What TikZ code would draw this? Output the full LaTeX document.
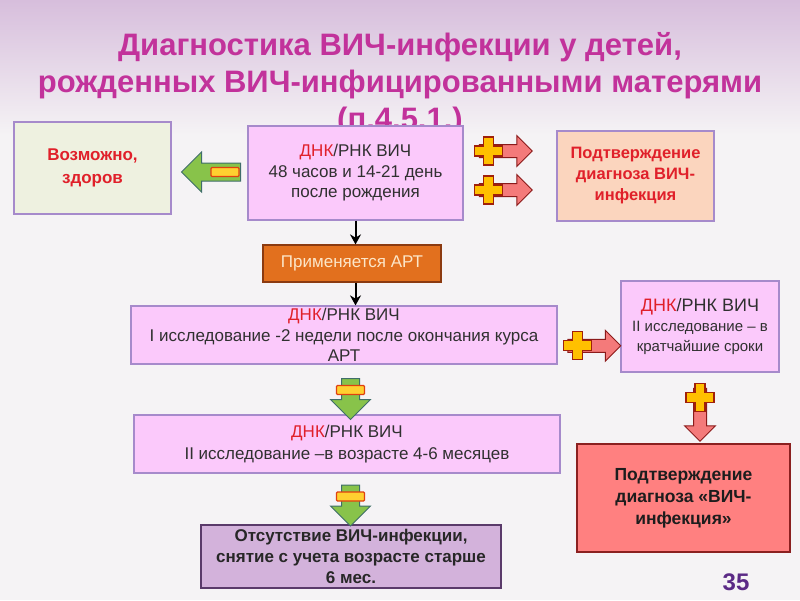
\documentclass[tikz,border=0pt]{standalone}
\usepackage{fontspec}
\setmainfont{Liberation Sans}
\usetikzlibrary{positioning,calc,shapes.arrows,arrows.meta}

\definecolor{bgcol}{HTML}{F5F3F5}
\definecolor{topcol}{HTML}{D7BEDC}
\definecolor{titlecol}{HTML}{C2329B}
\definecolor{lilac}{HTML}{A68ACB}
\definecolor{pinkfill}{HTML}{FBC9FB}
\definecolor{greenfill}{HTML}{EEF1E0}
\definecolor{peachfill}{HTML}{FBD5BE}
\definecolor{artfill}{HTML}{E2701E}
\definecolor{artdark}{HTML}{8B3A10}
\definecolor{arttext}{HTML}{FCE6C8}
\definecolor{absfill}{HTML}{D3B2DB}
\definecolor{absdark}{HTML}{5A3A6A}
\definecolor{redfill}{HTML}{FF8080}
\definecolor{reddark}{HTML}{8B2020}
\definecolor{textred}{HTML}{E0202A}
\definecolor{darktext}{HTML}{303030}
\definecolor{numcol}{HTML}{5B2A86}
\definecolor{arrowred}{HTML}{F47A7A}
\definecolor{arrowdark}{HTML}{8B1A1A}
\definecolor{plusfill}{HTML}{FFC000}
\definecolor{plusdark}{HTML}{A0200A}
\definecolor{arrowgreen}{HTML}{88C34A}
\definecolor{greendark}{HTML}{3F6E6A}
\definecolor{minusfill}{HTML}{FFD030}
\definecolor{minusdark}{HTML}{E04010}

\tikzstyle{box}=[rectangle,draw=lilac,line width=1.2pt,align=center,inner sep=0pt,text=darktext,font=\fontsize{17}{20.5}\selectfont]
\tikzstyle{pinkbox}=[box,fill=pinkfill]
\tikzstyle{greenbox}=[box,fill=greenfill,text=textred,font=\fontsize{17}{23}\selectfont\bfseries]
\tikzstyle{peachbox}=[box,fill=peachfill,text=textred,font=\fontsize{16.5}{21}\selectfont\bfseries]
\tikzstyle{artbox}=[box,fill=artfill,draw=artdark,text=arttext,font=\fontsize{17}{20}\selectfont]
\tikzstyle{lilacbox}=[box,fill=absfill,draw=absdark,text=darktext!80!black,font=\fontsize{17}{21}\selectfont\bfseries]
\tikzstyle{redbox}=[box,fill=redfill,draw=reddark,text=darktext!60!black,font=\fontsize{17.5}{22}\selectfont\bfseries]
\tikzstyle{redarrow}=[single arrow,draw=arrowdark,fill=arrowred,line width=1pt,minimum height=53pt,minimum width=30pt,inner xsep=0pt,inner ysep=6pt,text height=0pt,text depth=0pt,single arrow head extend=9pt]
\tikzstyle{reddown}=[redarrow,shape border rotate=270,inner xsep=6pt,inner ysep=0pt]
\tikzstyle{greenarrow}=[single arrow,draw=greendark,fill=arrowgreen,line width=1pt,minimum width=39pt,inner xsep=0pt,inner ysep=8.5pt,text height=0pt,text depth=0pt,single arrow head extend=11pt]
\tikzstyle{greendown}=[greenarrow,shape border rotate=270,inner xsep=8.5pt,inner ysep=0pt]
\tikzstyle{plussign}=[fill=plusfill,draw=plusdark,line width=1.2pt,line join=miter]
\tikzstyle{minussign}=[rectangle,fill=minusfill,draw=minusdark,line width=1.2pt,minimum width=28pt,minimum height=9pt,inner sep=0pt,rounded corners=1pt]
\tikzstyle{blackarrow}=[draw,line width=2pt,-{Stealth[length=10pt,width=11pt]}]
\newcommand{\dnk}{{\color{textred}ДНК}/РНК ВИЧ}

\begin{document}
\begin{tikzpicture}[x=1pt,y=-1pt]

  % background
  \fill[bgcol] (0,0) rectangle (800,600);
  \shade[top color=topcol, bottom color=bgcol] (0,0) rectangle (800,135);
  \useasboundingbox (0,0) rectangle (800,600);

  % title
  \foreach \name/\y/\txt in {title1/55/{Диагностика ВИЧ-инфекции у детей,}, title2/92/{рожденных ВИЧ-инфицированными матерями}, title3/129/{(п.4.5.1.)}}
     \node[anchor=base, text=titlecol, font=\fontsize{31}{36}\selectfont\bfseries] (\name) at (400,\y) {\txt};

  % boxes
  \node[greenbox, minimum width=157pt, minimum height=92pt] (well) at (92.5,168) {Возможно,\\здоров};
  \node[pinkbox, minimum width=215pt, minimum height=94pt] (dna1) at (355.5,173) {\dnk\\48 часов и 14-21 день\\после рождения};
  \node[peachbox, minimum width=157pt, minimum height=90pt] (confirm1) at (635.5,176) {Подтверждение\\диагноза ВИЧ-\\инфекция};
  \node[artbox, minimum width=178pt, minimum height=37pt] (art) at (352,263.5) {Применяется АРТ};
  \node[pinkbox, minimum width=426pt, minimum height=58pt] (dna2) at (344,335) {\dnk\\I исследование -2 недели после окончания курса\\АРТ};
  \node[pinkbox, minimum width=158pt, minimum height=91pt, font=\fontsize{15}{20}\selectfont] (check2) at (700,326.5) {{\fontsize{18}{20}\selectfont\dnk}\\II исследование – в\\кратчайшие сроки};
  \node[pinkbox, minimum width=426pt, minimum height=58pt, font=\fontsize{17}{22}\selectfont] (dna3) at (347,444) {\dnk\\II исследование –в возрасте 4-6 месяцев};
  \node[lilacbox, minimum width=300pt, minimum height=63pt] (absent) at (351,556.5) {Отсутствие ВИЧ-инфекции,\\снятие с учета возрасте старше\\6 мес.};
  \node[redbox, minimum width=213pt, minimum height=108pt] (confirm2) at (683.5,498) {Подтверждение\\диагноза «ВИЧ-\\инфекция»};

  \node[text=numcol, font=\fontsize{24}{28}\selectfont\bfseries] (page) at (736,582) {35};

  % thin arrows
  \draw[blackarrow] (dna1.south) -- (dna1.south |- art.north);
  \draw[blackarrow] (art.south -| dna1.south) -- (dna1.south |- dna2.north);

  % positive results
  \node[redarrow, xshift=-7.5pt, yshift=23.5pt] (r1) at ($(dna1.east)!0.5!(confirm1.west)$) {};
  \node[redarrow, xshift=-7.5pt, yshift=-15.5pt] (r2) at ($(dna1.east)!0.5!(confirm1.west)$) {};
  \node[redarrow, xshift=2pt, yshift=-15pt] (r3) at ($(dna2.east)!0.5!(check2.west)$) {};
  \node[reddown, yshift=-3.5pt] (r4) at ($(check2.south)!0.5!(check2.south |- confirm2.north)$) {};

  \foreach \a in {r1,r2,r3,r4}
     \draw[plussign] ($(\a.tail)!10pt!(\a.tip)$) ++(-5,-14) -- ++(10,0) -- ++(0,9) -- ++(9,0) -- ++(0,10) -- ++(-9,0) -- ++(0,9) -- ++(-10,0) -- ++(0,-9) -- ++(-9,0) -- ++(0,-10) -- ++(9,0) -- cycle;

  % negative results
  \node[greenarrow, minimum height=59pt, shape border rotate=180, xshift=6pt, yshift=-1.5pt] (g1) at ($(well.east)!0.5!(dna1.west)$) {};
  \node[greendown, minimum height=41pt, xshift=5pt, yshift=-5pt] (g2) at ($(dna2.south)!0.5!(dna3.north)$) {};
  \node[greendown, minimum height=41pt, xshift=1.5pt, yshift=-2pt] (g3) at ($(dna3.south)!0.5!(absent.north)$) {};

  \foreach \a/\d in {g1/16pt, g2/12pt, g3/12pt}
     \node[minussign] (m\a) at ($(\a.tail)!\d!(\a.tip)$) {};

\end{tikzpicture}
\end{document}
